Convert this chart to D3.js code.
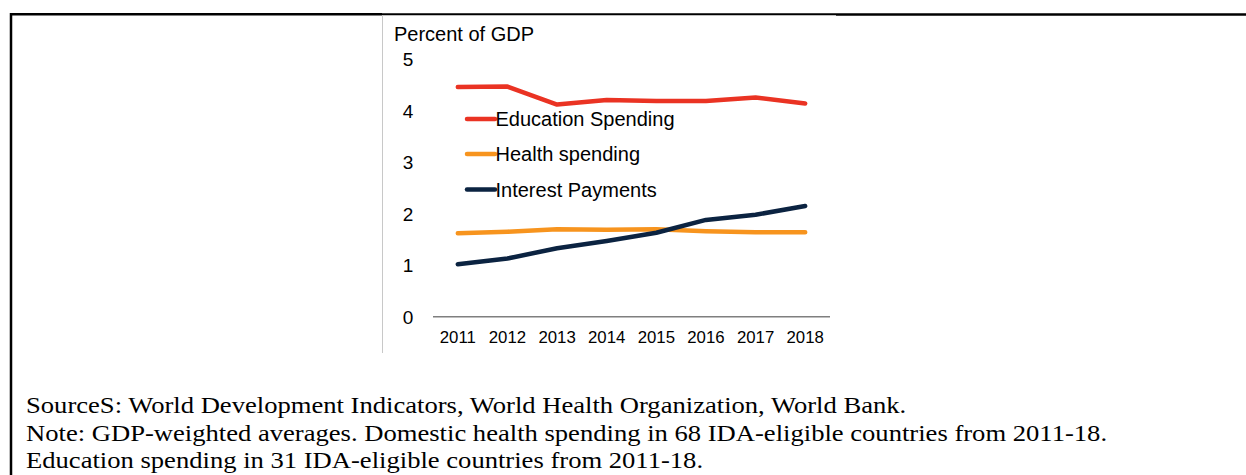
<!DOCTYPE html>
<html>
<head>
<meta charset="utf-8">
<script src="https://cdn.jsdelivr.net/npm/d3@7"></script>
<style>
  html, body { margin: 0; padding: 0; background: #fff; }
  svg { display: block; }
</style>
</head>
<body>
<svg id="chart" width="1246" height="475"></svg>
<script>
const years = ["2011", "2012", "2013", "2014", "2015", "2016", "2017", "2018"];
const educationSpending = [4.46, 4.47, 4.12, 4.21, 4.19, 4.19, 4.26, 4.14];
const healthSpending = [1.62, 1.65, 1.70, 1.69, 1.70, 1.66, 1.64, 1.64];
const interestPayments = [1.02, 1.13, 1.33, 1.47, 1.63, 1.88, 1.98, 2.15];
const yTicks = [0, 1, 2, 3, 4, 5];
const seriesNames = ["Education Spending", "Health spending", "Interest Payments"];
const yLabel = "Percent of GDP";
const notes = [
  "SourceS: World Development Indicators, World Health Organization, World Bank.",
  "Note: GDP-weighted averages. Domestic health spending in 68 IDA-eligible countries from 2011-18.",
  "Education spending in 31 IDA-eligible countries from 2011-18."
];

const colors = ["#EA3323", "#F7941E", "#0B2341"];
const seriesValues = [educationSpending, healthSpending, interestPayments];

const svg = d3.select("#chart");

// outer frame
svg.append("line").attr("x1", 11).attr("x2", 11).attr("y1", 13).attr("y2", 475)
  .attr("stroke", "#000").attr("stroke-width", 2.5);
svg.append("line").attr("x1", 10).attr("x2", 382).attr("y1", 14.3).attr("y2", 14.3)
  .attr("stroke", "#000").attr("stroke-width", 2.5);
svg.append("line").attr("x1", 382).attr("x2", 836).attr("y1", 14.3).attr("y2", 14.3)
  .attr("stroke", "#000").attr("stroke-width", 2);
svg.append("line").attr("x1", 836).attr("x2", 1246).attr("y1", 14.5).attr("y2", 14.5)
  .attr("stroke", "#000").attr("stroke-width", 2.5);
// chart image edge
svg.append("line").attr("x1", 382.5).attr("x2", 382.5).attr("y1", 15).attr("y2", 353)
  .attr("stroke", "#c8c8c8").attr("stroke-width", 1);

const x = d3.scaleBand().domain(years).range([433, 830]);
const y = d3.scaleLinear().domain([0, 5]).range([316.7, 59.3]);
const cx = d => x(d) + x.bandwidth() / 2;

// y label
svg.append("text").attr("x", 394).attr("y", 41)
  .attr("font-family", "Liberation Sans, Arial, sans-serif").attr("font-size", 20)
  .attr("fill", "#000").text(yLabel);

// y tick labels
svg.append("g").selectAll("text").data(yTicks).join("text")
  .attr("x", 408).attr("y", d => y(d)).attr("dy", "0.36em")
  .attr("text-anchor", "middle")
  .attr("font-family", "Liberation Sans, Arial, sans-serif").attr("font-size", 19)
  .attr("fill", "#000").text(d => d);

// x axis
const xAxis = d3.axisBottom(x).tickSize(0).tickPadding(0);
const gx = svg.append("g").attr("transform", `translate(0,${y(0)})`).call(xAxis);
gx.select(".domain").attr("stroke", "#7f7f7f").attr("stroke-width", 1.5)
  .attr("d", `M433,0H830`);
gx.selectAll(".tick text")
  .attr("y", 26).attr("dy", 0)
  .attr("font-family", "Liberation Sans, Arial, sans-serif").attr("font-size", 16.8)
  .attr("fill", "#000");

// lines
const line = d3.line().x((d, i) => cx(years[i])).y(d => y(d));
svg.append("g").selectAll("path").data(seriesValues).join("path")
  .attr("d", d => line(d))
  .attr("fill", "none")
  .attr("stroke", (d, i) => colors[i])
  .attr("stroke-width", 4.5)
  .attr("stroke-linejoin", "round")
  .attr("stroke-linecap", "round");

// legend
const legendY = [119, 154, 189.5];
const lg = svg.append("g").selectAll("g").data(seriesNames).join("g")
  .attr("transform", (d, i) => `translate(0,${legendY[i]})`);
lg.append("line").attr("x1", 467).attr("x2", 495).attr("y1", 0).attr("y2", 0)
  .attr("stroke", (d, i) => colors[i]).attr("stroke-width", 4.5)
  .attr("stroke-linecap", "round");
lg.append("text").attr("x", 495.5).attr("y", 7)
  .attr("font-family", "Liberation Sans, Arial, sans-serif").attr("font-size", 20)
  .attr("fill", "#000").text(d => d);

// notes (horizontally stretched serif text, as in the reference)
svg.append("g").attr("transform", "translate(26,0) scale(1.183,1)")
  .selectAll("text").data(notes).join("text")
  .attr("x", 0).attr("y", (d, i) => 413.3 + i * 27.5)
  .attr("font-family", "Liberation Serif, Times New Roman, serif").attr("font-size", 22.5)
  .attr("fill", "#000").text(d => d);
</script>
</body>
</html>
